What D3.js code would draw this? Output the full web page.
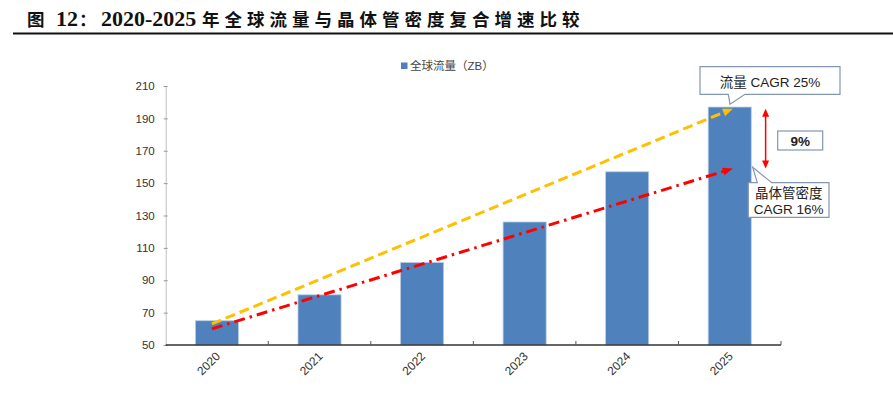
<!DOCTYPE html>
<html>
<head>
<meta charset="utf-8">
<script src="https://cdn.jsdelivr.net/npm/d3@7"></script>
<style>
  body { margin: 0; background: #fff; }
  svg { display: block; font-family: "Liberation Sans", Arial, "Noto Sans CJK SC", sans-serif; }
</style>
</head>
<body>
<div id="chart"></div>
<script>
// data
const years = ["2020", "2021", "2022", "2023", "2024", "2025"]
const traffic = [65, 81, 101, 126, 157, 197] // 全球流量 (ZB)
const yTicks = [50, 70, 90, 110, 130, 150, 170, 190, 210]
const flowTrend = [63, 196]     // 流量 CAGR 25%, start / end value
const densityTrend = [60, 159]  // 晶体管密度 CAGR 16%, start / end value
const gapLabel = "9%"

const width = 893
const height = 396
const margin = { top: 86, bottom: 51, left: 165.7, right: 112 }

const svg = d3
  .select("#chart")
  .append("svg")
  .attr("width", width)
  .attr("height", height)

// title
const title = svg.append("text").attr("y", 26).attr("font-weight", "bold").attr("fill", "#111")
const cjk = "'Noto Sans CJK SC', sans-serif"
const serif = "'Liberation Serif', 'Times New Roman', serif"
title.append("tspan").attr("x", 27).attr("font-family", cjk).attr("font-size", 17.5).text("图")
title.append("tspan").attr("x", 56).attr("font-family", serif).attr("font-size", 22).text("12")
title.append("tspan").attr("x", 79).attr("font-family", cjk).attr("font-size", 17.5).text("：")
title.append("tspan").attr("x", 101).attr("font-family", serif).attr("font-size", 22).text("2020-2025")
title
  .append("tspan")
  .attr("x", 202)
  .attr("font-family", cjk)
  .attr("font-size", 17.5)
  .attr("letter-spacing", 5)
  .text("年全球流量与晶体管密度复合增速比较")

svg.append("line")
  .attr("x1", 13).attr("x2", width)
  .attr("y1", 33.5).attr("y2", 33.5)
  .attr("stroke", "#111").attr("stroke-width", 2)

// scales
const x = d3.scaleBand().domain(years).range([margin.left, width - margin.right])
const y = d3.scaleLinear().domain([50, 210]).range([height - margin.bottom, margin.top])
const bw = x.bandwidth()

// y axis
const yAxis = d3.axisLeft(y).tickValues(yTicks).tickSize(2).tickPadding(9)
const gy = svg.append("g").attr("transform", `translate(${margin.left},0)`).call(yAxis)
gy.select(".domain").attr("stroke", "#bfbfbf")
gy.selectAll(".tick line").attr("stroke", "#999").attr("x2", -2).attr("x1", 2)
gy.selectAll(".tick text").attr("font-size", 11.5).attr("fill", "#333")
  .attr("font-family", "'Liberation Sans', Arial, sans-serif")

// bars
svg.append("g")
  .selectAll("rect")
  .data(years)
  .join("rect")
  .attr("x", (d) => x(d) + bw * 0.29)
  .attr("width", bw * 0.42)
  .attr("y", (d, i) => y(traffic[i]))
  .attr("height", (d, i) => y(50) - y(traffic[i]))
  .attr("fill", "#4f81bd")
  .attr("stroke", "#b8cce4")
  .attr("stroke-width", 0.8)

// x axis
const base = y(50)
svg.append("line")
  .attr("x1", margin.left).attr("x2", width - margin.right)
  .attr("y1", base).attr("y2", base)
  .attr("stroke", "#333").attr("stroke-width", 1.3)
svg.append("g")
  .selectAll("line")
  .data(years)
  .join("line")
  .attr("x1", (d) => x(d) + bw).attr("x2", (d) => x(d) + bw)
  .attr("y1", base).attr("y2", base - 4)
  .attr("stroke", "#555")
svg.append("g")
  .selectAll("text")
  .data(years)
  .join("text")
  .attr("transform", (d) => `translate(${x(d) + bw / 2 + 4},${base + 12}) rotate(-45)`)
  .attr("text-anchor", "end")
  .attr("font-size", 12)
  .attr("fill", "#333")
  .text((d) => d)

// legend
svg.append("rect").attr("x", 401).attr("y", 62.5).attr("width", 6.5).attr("height", 6.5).attr("fill", "#4f81bd")
svg.append("text").attr("x", 410).attr("y", 69.5).attr("font-size", 11.5).attr("fill", "#444").text("全球流量（ZB）")

// arrows
const arrowHead = (g, tip, angle, color, len, w) => {
  g.append("path")
    .attr("d", `M0,0 L${-len},${-w / 2} L${-len},${w / 2} Z`)
    .attr("transform", `translate(${tip[0]},${tip[1]}) rotate(${(angle * 180) / Math.PI})`)
    .attr("fill", color)
}
const trend = (vals, color, dash) => {
  const p0 = [x(years[0]) + bw * 0.45, y(vals[0])]
  const p1 = [x(years[years.length - 1]) + bw * 0.53, y(vals[1])]
  const a = Math.atan2(p1[1] - p0[1], p1[0] - p0[0])
  const g = svg.append("g")
  g.append("line")
    .attr("x1", p0[0]).attr("y1", p0[1])
    .attr("x2", p1[0] - 8 * Math.cos(a)).attr("y2", p1[1] - 8 * Math.sin(a))
    .attr("stroke", color).attr("stroke-width", 3)
    .attr("stroke-dasharray", dash)
  arrowHead(g, p1, a, color, 10, 8)
}
trend(flowTrend, "#ffc000", "10,5")
trend(densityTrend, "#ff0000", "11,5,2.5,5")

// gap arrow between the two trend ends
const gx = x(years[5]) + bw * 0.85
const gTop = y(flowTrend[1])
const gBot = y(densityTrend[1])
const gg = svg.append("g")
gg.append("line")
  .attr("x1", gx).attr("x2", gx)
  .attr("y1", gTop + 6).attr("y2", gBot - 6)
  .attr("stroke", "#ff0000").attr("stroke-width", 1.5)
arrowHead(gg, [gx, gTop], -Math.PI / 2, "#ff0000", 8, 7)
arrowHead(gg, [gx, gBot], Math.PI / 2, "#ff0000", 8, 7)

// callouts
const boxStroke = "#8497b0"
svg.append("path")
  .attr("d", "M700,66.7 H840 V94.3 H745 L730,104.3 L728.3,94.3 H700 Z")
  .attr("fill", "#fff").attr("stroke", boxStroke).attr("stroke-width", 1.2)
svg.append("text").attr("x", 770).attr("y", 86.5).attr("text-anchor", "middle")
  .attr("font-size", 13.5).attr("fill", "#222").text("流量 CAGR 25%")

svg.append("rect")
  .attr("x", 777.7).attr("y", 131).attr("width", 45).attr("height", 19)
  .attr("fill", "#fff").attr("stroke", boxStroke).attr("stroke-width", 1.2)
svg.append("text").attr("x", 800.2).attr("y", 146).attr("text-anchor", "middle")
  .attr("font-size", 13.5).attr("font-weight", "bold").attr("fill", "#222").text(gapLabel)

svg.append("path")
  .attr("d", "M748.3,182.7 H757.3 L752.7,167.3 L771.7,182.7 H829 V217.3 H748.3 Z")
  .attr("fill", "#fff").attr("stroke", boxStroke).attr("stroke-width", 1.2)
svg.append("text").attr("x", 788.7).attr("y", 197.5).attr("text-anchor", "middle")
  .attr("font-size", 13.5).attr("fill", "#222").text("晶体管密度")
svg.append("text").attr("x", 788.7).attr("y", 213.5).attr("text-anchor", "middle")
  .attr("font-size", 13.5).attr("fill", "#222").text("CAGR 16%")
</script>
</body>
</html>
